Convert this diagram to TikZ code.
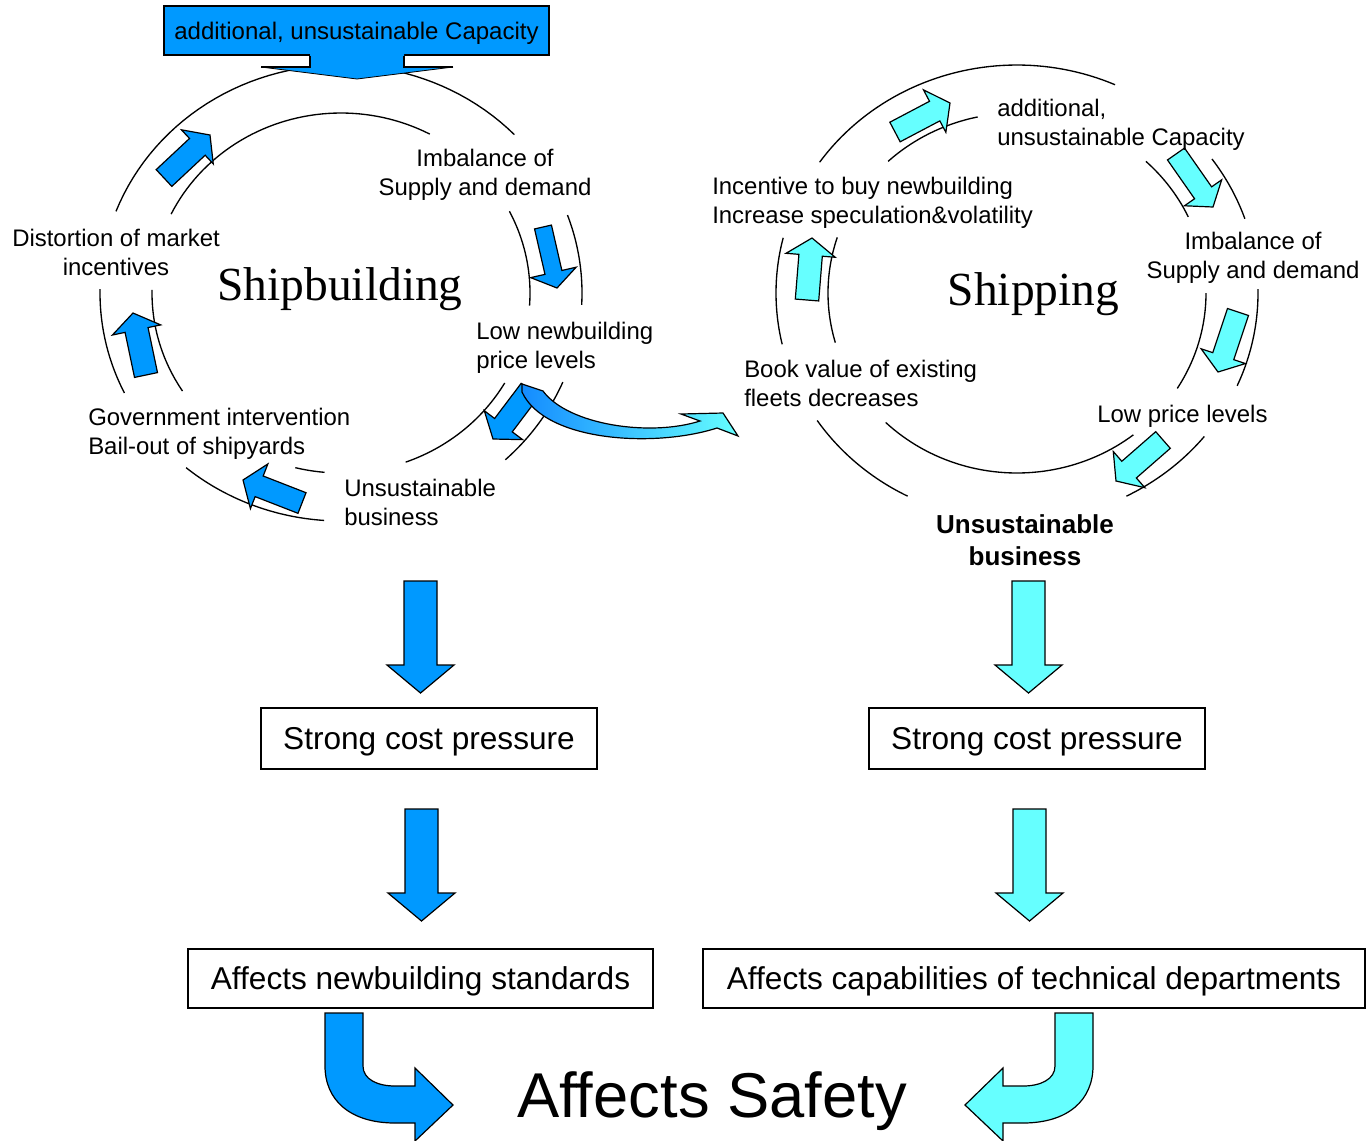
\documentclass[tikz,border=0pt]{standalone}
\usepackage{fontspec}
\setmainfont{Liberation Sans}
\newfontfamily\ttlfont{Liberation Serif}
\usetikzlibrary{calc}
\definecolor{sbblue}{RGB}{0,153,255}
\definecolor{spcyan}{RGB}{102,255,255}
\definecolor{gradblue}{RGB}{20,140,255}
\tikzset{
  ringline/.style={line width=1pt},
  arrline/.style={line width=0.9pt, line join=miter},
  lbl/.style={inner sep=0pt, text depth=0pt, font=\fontsize{17.95}{21.75}\selectfont},
  boxnode/.style={draw, line width=1.3pt, inner sep=0pt, text depth=0pt, font=\fontsize{23.7}{28}\selectfont},
  ttl/.style={inner sep=0pt, text depth=0pt, font=\ttlfont\fontsize{35.6}{40}\selectfont},
}
% elliptic arc of a ring: cx, cy, rx, ry, start, end (degrees, y up)
\newcommand{\ringarc}[6]{\draw[ringline] plot[domain=#5:#6, samples=50] ({#1+#3*cos(\x)},{#2-#4*sin(\x)});}
% block arrow: fill, tail, tip, half shaft, half head, head length
\newcommand{\blockarr}[6]{%
  \coordinate (hb) at ($(#3)!#6!(#2)$);
  \draw[arrline, fill=#1] ($(#2)!#4!90:(#3)$) -- ($(hb)!#4!90:(#3)$) -- ($(hb)!#5!90:(#3)$) -- (#3)
     -- ($(hb)!#5!-90:(#3)$) -- ($(hb)!#4!-90:(#3)$) -- ($(#2)!#4!-90:(#3)$) -- cycle;}
% straight down arrow: cx, top, head y, tip y, fill
\newcommand{\downarr}[5]{%
  \draw[arrline, fill=#5] ({#1-16.5},{#2}) -- ({#1+16.5},{#2}) -- ({#1+16.5},{#3}) -- ({#1+33.5},{#3})
     -- ({#1},{#4}) -- ({#1-33.5},{#3}) -- ({#1-16.5},{#3}) -- cycle;}
\begin{document}
\begin{tikzpicture}[x=0.75pt,y=-0.75pt]
\useasboundingbox (0,0) rectangle (1366,1140);

% ---------------- left ring (Shipbuilding)
\ringarc{341}{293}{241}{228}{44}{159}
\ringarc{341}{293}{189}{180}{62}{154}
\ringarc{341}{293}{241}{228}{-3}{20}
\ringarc{341}{293}{189}{180}{-4}{27}
\ringarc{341}{293}{241}{228}{-47}{-23}
\ringarc{341}{293}{189}{180}{-70}{-30}
\ringarc{341}{293}{241}{228}{-130}{-94}
\ringarc{341}{293}{189}{180}{-104}{-95}
\ringarc{341}{293}{241}{228}{179}{206}
\ringarc{341}{293}{189}{180}{179}{213}

% ---------------- right ring (Shipping)
\ringarc{1017}{293}{241}{228}{66}{145}
\ringarc{1017}{293}{189}{180}{102}{133}
\ringarc{1017}{293}{241}{228}{19}{36}
\ringarc{1017}{293}{189}{180}{25}{47}
\ringarc{1017}{293}{241}{228}{-24}{1}
\ringarc{1017}{293}{189}{180}{-32}{0}
\ringarc{1017}{293}{241}{228}{-63}{-39}
\ringarc{1017}{293}{189}{180}{-134}{-52}
\ringarc{1017}{293}{241}{228}{-146}{-117}
\ringarc{1017}{293}{241}{228}{166}{193}
\ringarc{1017}{293}{189}{180}{162}{196}

% ---------------- arrow end points
\coordinate (aT) at (164,178);  \coordinate (aP) at (210,135);
\coordinate (bT) at (543,227);  \coordinate (bP) at (557,288);
\coordinate (cT) at (146,375);  \coordinate (cP) at (133,313);
\coordinate (dT) at (302,503);  \coordinate (dP) at (243,480);
\coordinate (jT) at (530,390);  \coordinate (jP) at (493,439);
\coordinate (eT) at (895,132);  \coordinate (eP) at (950,103);
\coordinate (fT) at (1176,154); \coordinate (fP) at (1213,207);
\coordinate (gT) at (807,300);  \coordinate (gP) at (812,238);
\coordinate (hT) at (1238,312); \coordinate (hP) at (1218,372);
\coordinate (iT) at (1163,440); \coordinate (iP) at (1116,481);

% ---------------- cycle arrows
\blockarr{sbblue}{aT}{aP}{8.6pt}{17.5pt}{13pt}
\blockarr{sbblue}{bT}{bP}{6.5pt}{17.5pt}{12pt}
\blockarr{sbblue}{cT}{cP}{8.8pt}{18.5pt}{13pt}
\blockarr{sbblue}{dT}{dP}{8.3pt}{18pt}{13pt}
\blockarr{sbblue}{jT}{jP}{8.3pt}{18pt}{13pt}
\blockarr{spcyan}{eT}{eP}{8.3pt}{18pt}{13pt}
\blockarr{spcyan}{fT}{fP}{7.8pt}{17pt}{13pt}
\blockarr{spcyan}{gT}{gP}{8.8pt}{18.5pt}{13pt}
\blockarr{spcyan}{hT}{hP}{8.3pt}{17.5pt}{12.5pt}
\blockarr{spcyan}{iT}{iP}{8.3pt}{18pt}{13pt}

% ---------------- curved gradient arrow
\draw[arrline, left color=gradblue, right color=spcyan]
  (522,384) -- (543,391) .. controls (568,425) and (650,437) .. (700,421)
  -- (681,414) -- (723,413) -- (738,436) -- (717,428)
  .. controls (655,448) and (545,442) .. (522,392) -- cycle;

% ---------------- top box with arrow
\node[draw, line width=1.3pt, fill=sbblue, inner sep=0pt, minimum width=288.75pt,
      minimum height=36.75pt, text depth=0pt, font=\fontsize{18}{20}\selectfont]
      (capL) at (356.5,30.5) {additional, unsustainable Capacity};
\fill[sbblue] (310,53.5) -- (310,67) -- (261,67) -- (357,79) -- (453,67) -- (404,67) -- (404,53.5) -- cycle;
\draw[line width=1.3pt] (310,55.5) -- (310,67) -- (261,67);
\draw[line width=1.3pt] (404,55.5) -- (404,67) -- (453,67);
\draw[line width=0.6pt] (261,67) -- (357,79) -- (453,67);

% ---------------- labels left
\node[lbl, align=center] (imbL) at (485,172) {Imbalance of\\Supply and demand};
\node[lbl, align=center] (distL) at (116,252.5) {Distortion of market\\incentives};
\node[lbl, align=left, anchor=west] (lowL) at (476,345.5) {Low newbuilding\\price levels};
\node[lbl, align=left, anchor=west] (govL) at (88,431.5) {Government intervention\\Bail-out of shipyards};
\node[lbl, align=left, anchor=west] (unsL) at (344,502.5) {Unsustainable\\business};
\node[ttl] (tL) at (340,284) {Shipbuilding};

% ---------------- labels right
\node[lbl, align=left, anchor=west] (addR) at (997,122.5) {additional,\\unsustainable Capacity};
\node[lbl, align=left, anchor=west] (incR) at (712,200.5) {Incentive to buy newbuilding\\Increase speculation\&volatility};
\node[lbl, align=center] (imbR) at (1253,255.5) {Imbalance of\\Supply and demand};
\node[lbl, align=left, anchor=west] (bookR) at (744,383.5) {Book value of existing\\fleets decreases};
\node[lbl, anchor=west] (lowR) at (1097,414) {Low price levels};
\node[inner sep=0pt, text depth=0pt, align=center, font=\bfseries\fontsize{19.5}{24}\selectfont]
      (unsR) at (1025,540) {Unsustainable\\business};
\node[ttl] (tR) at (1033.5,289) {Shipping};

% ---------------- lower chain
\downarr{420.5}{581}{665}{693}{sbblue}
\downarr{421.5}{809}{893}{921}{sbblue}
\downarr{1028.5}{581}{665}{693}{spcyan}
\downarr{1029.5}{809}{893}{921}{spcyan}

\node[boxnode, minimum width=252pt, minimum height=45.75pt] (scpL) at (429,738.5) {Strong cost pressure};
\node[boxnode, minimum width=252pt, minimum height=45.75pt] (scpR) at (1037,738.5) {Strong cost pressure};
\node[boxnode, minimum width=348.75pt, minimum height=44.25pt] (anbL) at (420.5,978.5) {Affects newbuilding standards};
\node[boxnode, minimum width=496.5pt, minimum height=44.25pt] (actR) at (1034,978.5) {Affects capabilities of technical departments};

% ---------------- bent arrows
\draw[arrline, fill=sbblue] (325,1013) -- (363,1013) -- (363,1066)
  .. controls (363,1079) and (377,1086) .. (395,1086) -- (415,1086) -- (415,1068)
  -- (453,1105) -- (415,1141) -- (415,1123) -- (395,1123)
  .. controls (350,1123) and (325,1100) .. (325,1066) -- cycle;
\draw[arrline, fill=spcyan] (1093,1013) -- (1055,1013) -- (1055,1066)
  .. controls (1055,1079) and (1041,1086) .. (1023,1086) -- (1003,1086) -- (1003,1068)
  -- (965,1105) -- (1003,1141) -- (1003,1123) -- (1023,1123)
  .. controls (1068,1123) and (1093,1100) .. (1093,1066) -- cycle;

\node[inner sep=0pt, text depth=0pt, font=\fontsize{47.5}{50}\selectfont] (safety) at (712,1095) {Affects Safety};
\end{tikzpicture}
\end{document}
